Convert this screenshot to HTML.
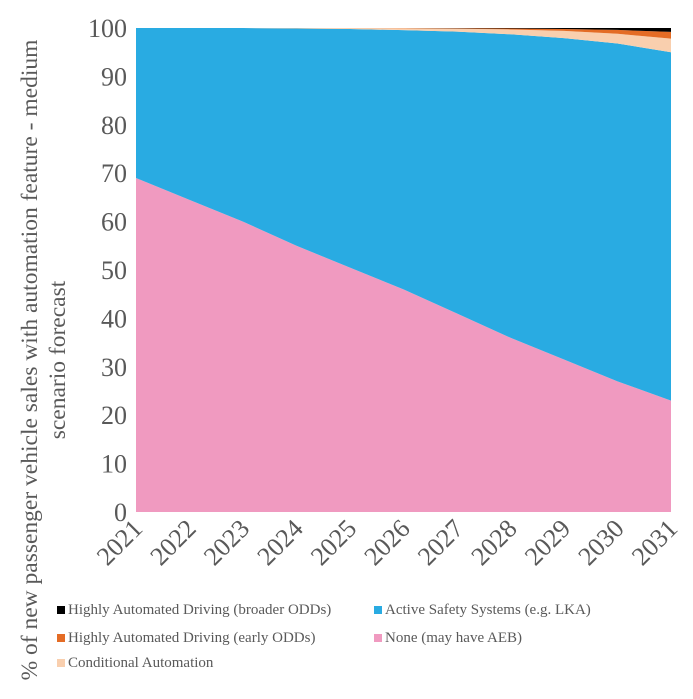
<!DOCTYPE html>
<html><head><meta charset="utf-8"><style>
body{margin:0;background:#fff;width:693px;height:694px;overflow:hidden;font-family:"Liberation Serif",serif;}
</style></head><body>
<svg width="693" height="694">
<g id="areas"></g><g id="yt"></g><g id="xt"></g>
<text transform="translate(37,360) rotate(-90)" text-anchor="middle" font-size="23.5" fill="#595959"><tspan x="0" dy="0">% of new passenger vehicle sales with automation feature - medium</tspan><tspan x="0" dy="28">scenario forecast</tspan></text>
<g font-size="15" fill="#595959">
<rect x="57" y="606" width="8" height="8" fill="#000"/><text x="68" y="614">Highly Automated Driving (broader ODDs)</text>
<rect x="57" y="634" width="8" height="8" fill="#e46c25"/><text x="68" y="642">Highly Automated Driving (early ODDs)</text>
<rect x="57" y="659" width="8" height="8" fill="#f9cfae"/><text x="68" y="667">Conditional Automation</text>
<rect x="374" y="606" width="8" height="8" fill="#29abe2"/><text x="385" y="614">Active Safety Systems (e.g. LKA)</text>
<rect x="374" y="634" width="8" height="8" fill="#f09ac0"/><text x="385" y="642">None (may have AEB)</text>
</g>
</svg>
<script>
const years=[2021,2022,2023,2024,2025,2026,2027,2028,2029,2030,2031];
const none=[69,64.5,60,55,50.5,46,41,36,31.5,27,23];
const cond=[0,0,0,0.1,0.2,0.4,0.6,1.0,1.5,2.0,2.8];
const hadEarly=[0,0,0,0,0,0.05,0.1,0.2,0.4,0.8,1.4];
const hadBroad=[0,0,0,0,0,0,0.05,0.1,0.2,0.4,0.8];
const active=years.map((y,i)=>100-none[i]-cond[i]-hadEarly[i]-hadBroad[i]);
const yTicks=[0,10,20,30,40,50,60,70,80,90,100];
const x0=136,x1=671,yb=512,yt=28;
const X=i=>x0+(x1-x0)*i/(years.length-1);
const Y=v=>yb-(yb-yt)*v/100;
const ns="http://www.w3.org/2000/svg";
const series=[["none",none,"#f09ac0"],["active",active,"#29abe2"],["conditional",cond,"#f9cfae"],["had-early",hadEarly,"#e46c25"],["had-broad",hadBroad,"#000"]];
let base=years.map(()=>0);
const ga=document.getElementById('areas');
series.forEach(([n,vals,c])=>{
  const top=base.map((b,i)=>b+vals[i]);
  let d="M"+top.map((t,i)=>X(i)+","+Y(t)).join("L");
  for(let i=years.length-1;i>=0;i--)d+="L"+X(i)+","+Y(base[i]);
  const p=document.createElementNS(ns,"path");
  p.setAttribute("d",d+"Z");p.setAttribute("fill",c);
  
  
  ga.appendChild(p);base=top;
});
const gy=document.getElementById('yt');
yTicks.forEach(v=>{const t=document.createElementNS(ns,"text");
 t.setAttribute("x",127);t.setAttribute("y",Y(v)+9);t.setAttribute("text-anchor","end");
 t.setAttribute("font-size","26");t.setAttribute("fill","#595959");t.textContent=v;
 
 
 gy.appendChild(t);});
const gx=document.getElementById('xt');
years.forEach((y,i)=>{const t=document.createElementNS(ns,"text");
 const cx=X(i)+8,cy=530;
 t.setAttribute("transform",`translate(${cx},${cy}) rotate(-45)`);t.setAttribute("text-anchor","end");
 t.setAttribute("font-size","26");t.setAttribute("fill","#595959");t.textContent=y;
 
 
 gx.appendChild(t);});
</script>
</body></html>
